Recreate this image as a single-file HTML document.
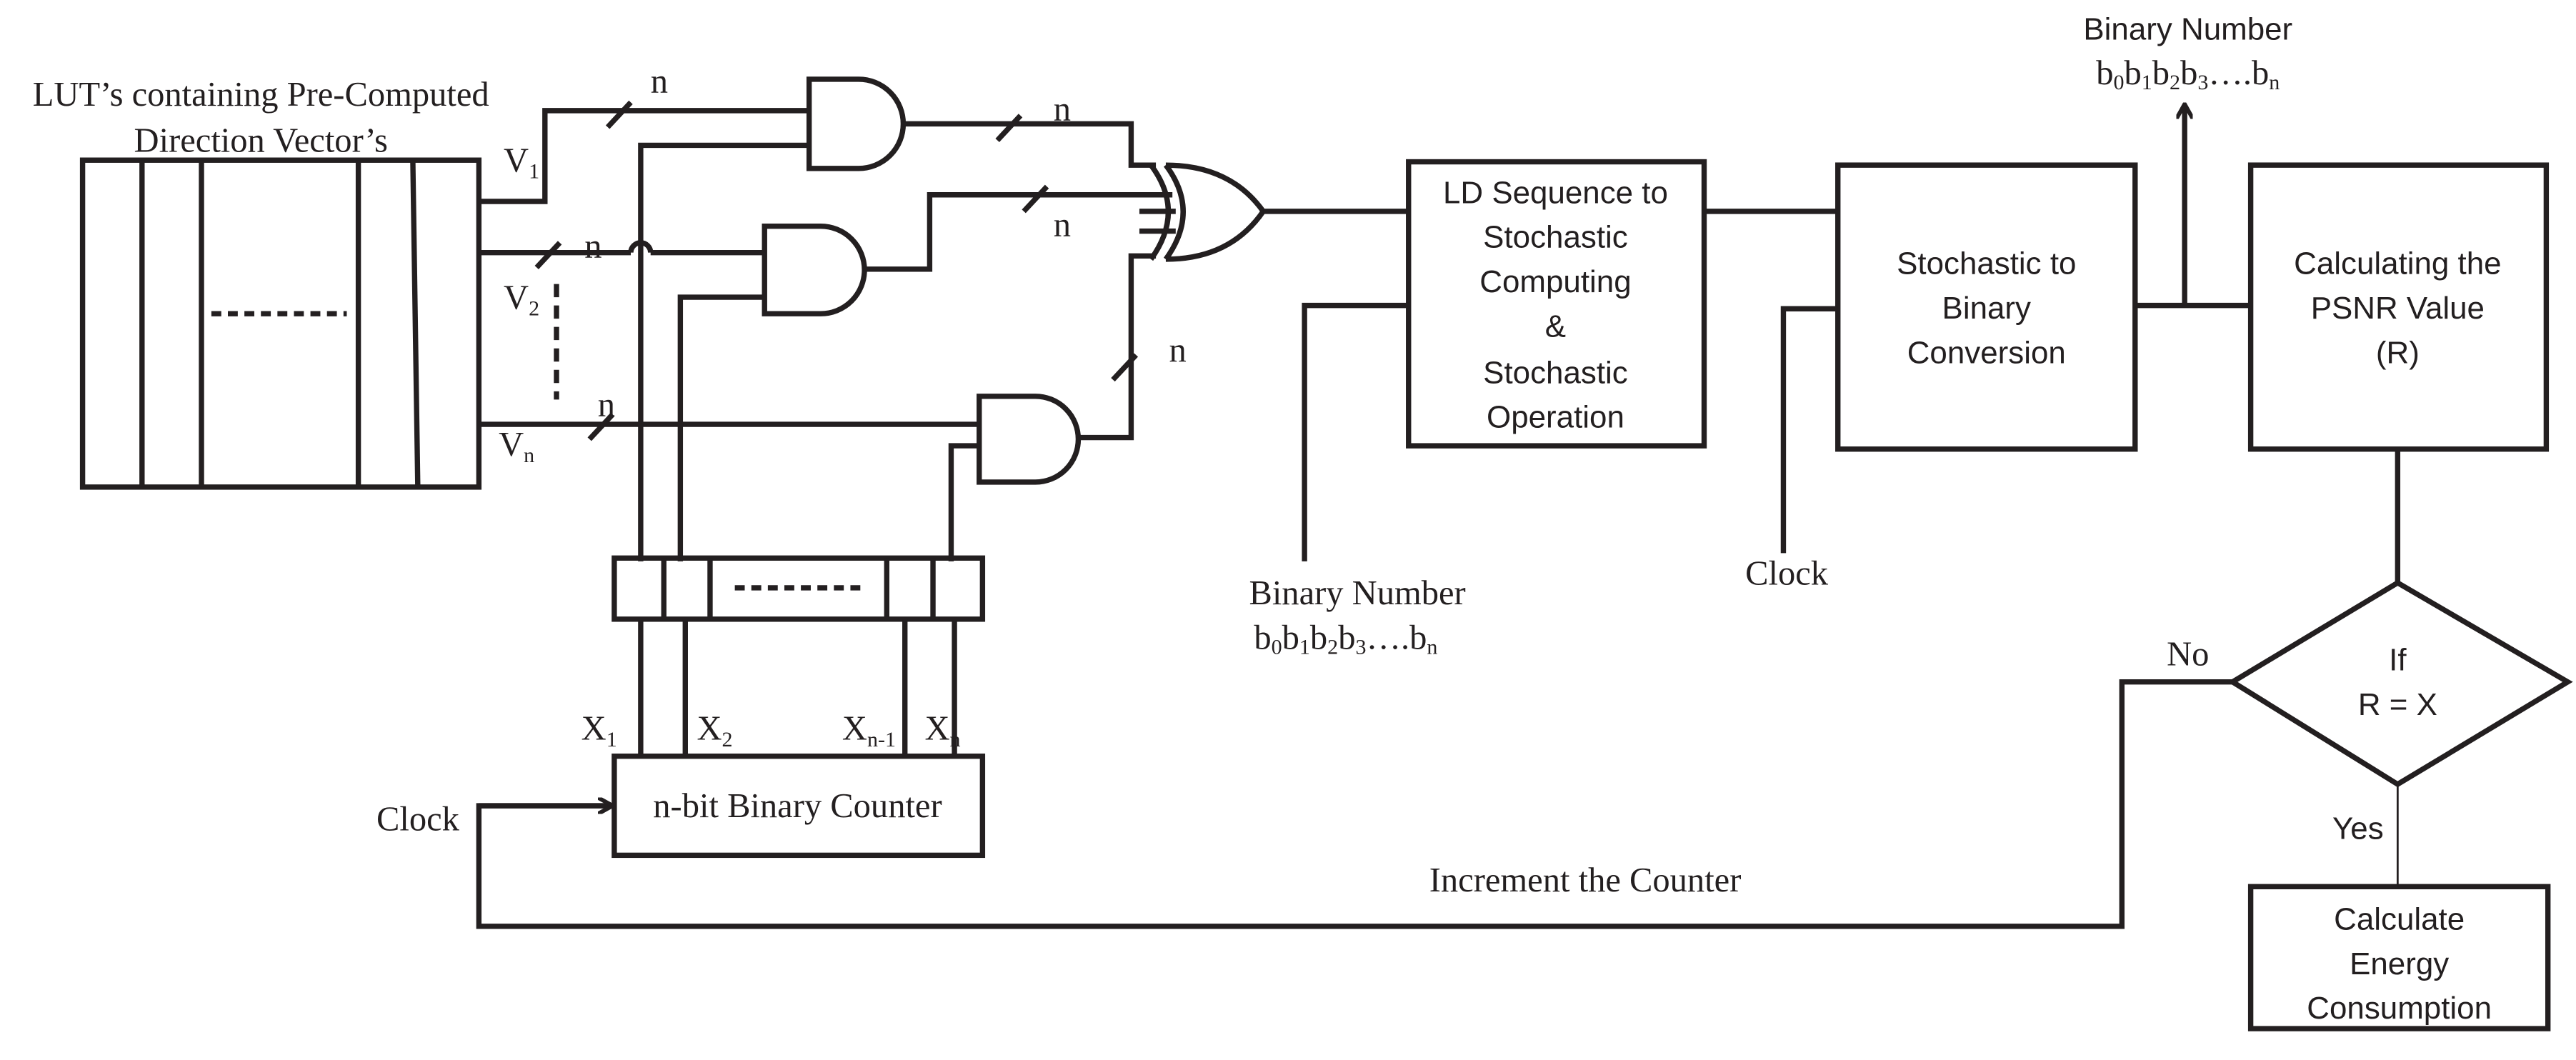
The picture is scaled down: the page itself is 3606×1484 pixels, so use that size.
<!DOCTYPE html>
<html><head><meta charset="utf-8"><style>
html,body{margin:0;padding:0;background:#fff;}
svg{display:block;}
.s{font-family:"Liberation Serif",serif;font-size:21px;fill:#231f20;}
.a{font-family:"Liberation Sans",sans-serif;font-size:19px;fill:#231f20;}
</style></head><body>
<svg width="3606" height="1484" viewBox="0 0 1560 642" xmlns="http://www.w3.org/2000/svg">
<defs><marker id="ar" markerWidth="10" markerHeight="10" refX="8" refY="5" orient="auto" markerUnits="userSpaceOnUse"><path d="M0,0 L9,5 L0,10" fill="none" stroke="#231f20" stroke-width="2.5"/></marker></defs>
<g fill="none" stroke="#231f20" stroke-width="3.2">
<!-- LUT -->
<rect x="50" y="97" width="240" height="198"/>
<line x1="86" y1="97" x2="86" y2="295"/><line x1="122" y1="97" x2="122" y2="295"/>
<line x1="217" y1="97" x2="217" y2="295"/><line x1="250" y1="97" x2="253" y2="295"/>
<line x1="128" y1="190" x2="210" y2="190" stroke-dasharray="6,4"/>
<!-- V1 -->
<polyline points="290,122 330,122 330,67 490,67"/>
<polyline points="388,340 388,88 490,88"/>
<!-- V2 with hop -->
<polyline points="290,153 382,153"/>
<path d="M382,153 A6,6 0 0 1 394,153"/>
<polyline points="394,153 463,153"/>
<polyline points="412,340 412,180 463,180"/>
<line x1="337" y1="172" x2="337" y2="242" stroke-dasharray="8,5"/>
<!-- Vn -->
<polyline points="290,257 593,257"/>
<polyline points="576,340 576,270 593,270"/>
<!-- AND gates -->
<path d="M490,48 H520 A27,27 0 0 1 520,102 H490 Z"/>
<path d="M463,137 H497 A26.5,26.5 0 0 1 497,190 H463 Z"/>
<path d="M593,240 H627 A26,26 0 0 1 627,292 H593 Z"/>
<!-- AND outputs -->
<polyline points="547,75 685,75 685,100 700,100"/>
<polyline points="523,163 563,163 563,118 710,118"/>
<polyline points="653,265 685,265 685,155 700,155"/>
<line x1="690" y1="128" x2="712" y2="128"/><line x1="690" y1="140" x2="712" y2="140"/>
<!-- XOR -->
<path d="M697,100 Q718,128 697,157"/>
<path d="M706,100 Q727,128 706,157"/>
<path d="M706,100 Q745,100 765,128 Q745,157 706,157"/>
<line x1="765" y1="128" x2="853" y2="128"/>
<!-- slashes -->
<line x1="368" y1="77" x2="382" y2="62"/>
<line x1="604" y1="85" x2="618" y2="70"/>
<line x1="620" y1="128" x2="634" y2="113"/>
<line x1="325" y1="162" x2="339" y2="147"/>
<line x1="357" y1="266" x2="371" y2="251"/>
<line x1="674" y1="230" x2="688" y2="215"/>
<!-- register -->
<rect x="372" y="338" width="223" height="37"/>
<line x1="402" y1="338" x2="402" y2="375"/><line x1="430" y1="338" x2="430" y2="375"/>
<line x1="537" y1="338" x2="537" y2="375"/><line x1="565" y1="338" x2="565" y2="375"/>
<line x1="445" y1="356" x2="525" y2="356" stroke-dasharray="6,4"/>
<line x1="388" y1="375" x2="388" y2="458"/><line x1="415" y1="375" x2="415" y2="458"/>
<line x1="548" y1="375" x2="548" y2="458"/><line x1="578" y1="375" x2="578" y2="458"/>
<rect x="372" y="458" width="223" height="60"/>
<!-- clock loop -->
<polyline points="372,488 290,488 290,561 1285,561 1285,413 1352,413"/>
<line x1="290" y1="488" x2="370" y2="488" marker-end="url(#ar)"/>
<!-- LD box -->
<rect x="853" y="98" width="179" height="172"/>
<polyline points="853,185 790,185 790,340"/>
<line x1="1032" y1="128" x2="1113" y2="128"/>
<rect x="1113" y="100" width="180" height="172"/>
<polyline points="1113,187 1080,187 1080,335"/>
<line x1="1293" y1="185" x2="1363" y2="185"/>
<line x1="1323" y1="185" x2="1323" y2="64" marker-end="url(#ar)"/>
<rect x="1363" y="100" width="179" height="172"/>
<line x1="1452" y1="272" x2="1452" y2="353"/>
<polygon points="1452,353 1555,413 1452,475 1352,413"/>
<rect x="1363" y="537" width="180" height="86"/>
</g>
<line x1="1452" y1="475" x2="1452" y2="537" stroke="#231f20" stroke-width="1.2"/>
<!-- text -->
<text class="s" x="158" y="64" text-anchor="middle">LUT’s containing Pre-Computed</text>
<text class="s" x="158" y="92" text-anchor="middle">Direction Vector’s</text>
<text class="s" x="305" y="104">V<tspan font-size="13" dy="4">1</tspan></text>
<text class="s" x="305" y="187">V<tspan font-size="13" dy="4">2</tspan></text>
<text class="s" x="302" y="276">V<tspan font-size="13" dy="4">n</tspan></text>
<text class="s" x="394" y="56">n</text>
<text class="s" x="638" y="73">n</text>
<text class="s" x="638" y="143">n</text>
<text class="s" x="354" y="156">n</text>
<text class="s" x="362" y="252">n</text>
<text class="s" x="708" y="219">n</text>
<text class="s" x="352" y="448">X<tspan font-size="13" dy="4">1</tspan></text>
<text class="s" x="422" y="448">X<tspan font-size="13" dy="4">2</tspan></text>
<text class="s" x="510" y="448">X<tspan font-size="13" dy="4">n-1</tspan></text>
<text class="s" x="560" y="448">X<tspan font-size="13" dy="4">n</tspan></text>
<text class="s" x="483" y="495" text-anchor="middle">n-bit Binary Counter</text>
<text class="s" x="228" y="503">Clock</text>
<text class="s" x="960" y="540" text-anchor="middle">Increment the Counter</text>
<text class="a" x="942" y="123" text-anchor="middle">LD Sequence to</text>
<text class="a" x="942" y="150" text-anchor="middle">Stochastic</text>
<text class="a" x="942" y="177" text-anchor="middle">Computing</text>
<text class="a" x="942" y="204" text-anchor="middle">&amp;</text>
<text class="a" x="942" y="232" text-anchor="middle">Stochastic</text>
<text class="a" x="942" y="259" text-anchor="middle">Operation</text>
<text class="s" x="822" y="366" text-anchor="middle">Binary Number</text>
<text class="s" x="815" y="393" text-anchor="middle">b<tspan font-size="13" dy="3">0</tspan><tspan dy="-3">b</tspan><tspan font-size="13" dy="3">1</tspan><tspan dy="-3">b</tspan><tspan font-size="13" dy="3">2</tspan><tspan dy="-3">b</tspan><tspan font-size="13" dy="3">3</tspan><tspan dy="-3">….b</tspan><tspan font-size="13" dy="3">n</tspan></text>
<text class="a" x="1203" y="166" text-anchor="middle">Stochastic to</text>
<text class="a" x="1203" y="193" text-anchor="middle">Binary</text>
<text class="a" x="1203" y="220" text-anchor="middle">Conversion</text>
<text class="s" x="1082" y="354" text-anchor="middle">Clock</text>
<text class="a" x="1325" y="24" text-anchor="middle">Binary Number</text>
<text class="s" x="1325" y="51" text-anchor="middle">b<tspan font-size="13" dy="3">0</tspan><tspan dy="-3">b</tspan><tspan font-size="13" dy="3">1</tspan><tspan dy="-3">b</tspan><tspan font-size="13" dy="3">2</tspan><tspan dy="-3">b</tspan><tspan font-size="13" dy="3">3</tspan><tspan dy="-3">….b</tspan><tspan font-size="13" dy="3">n</tspan></text>
<text class="a" x="1452" y="166" text-anchor="middle">Calculating the</text>
<text class="a" x="1452" y="193" text-anchor="middle">PSNR Value</text>
<text class="a" x="1452" y="220" text-anchor="middle">(R)</text>
<text class="a" x="1452" y="406" text-anchor="middle">If</text>
<text class="a" x="1452" y="433" text-anchor="middle">R = X</text>
<text class="s" x="1325" y="403" text-anchor="middle">No</text>
<text class="a" x="1428" y="508" text-anchor="middle">Yes</text>
<text class="a" x="1453" y="563" text-anchor="middle">Calculate</text>
<text class="a" x="1453" y="590" text-anchor="middle">Energy</text>
<text class="a" x="1453" y="617" text-anchor="middle">Consumption</text>
</svg>
</body></html>
